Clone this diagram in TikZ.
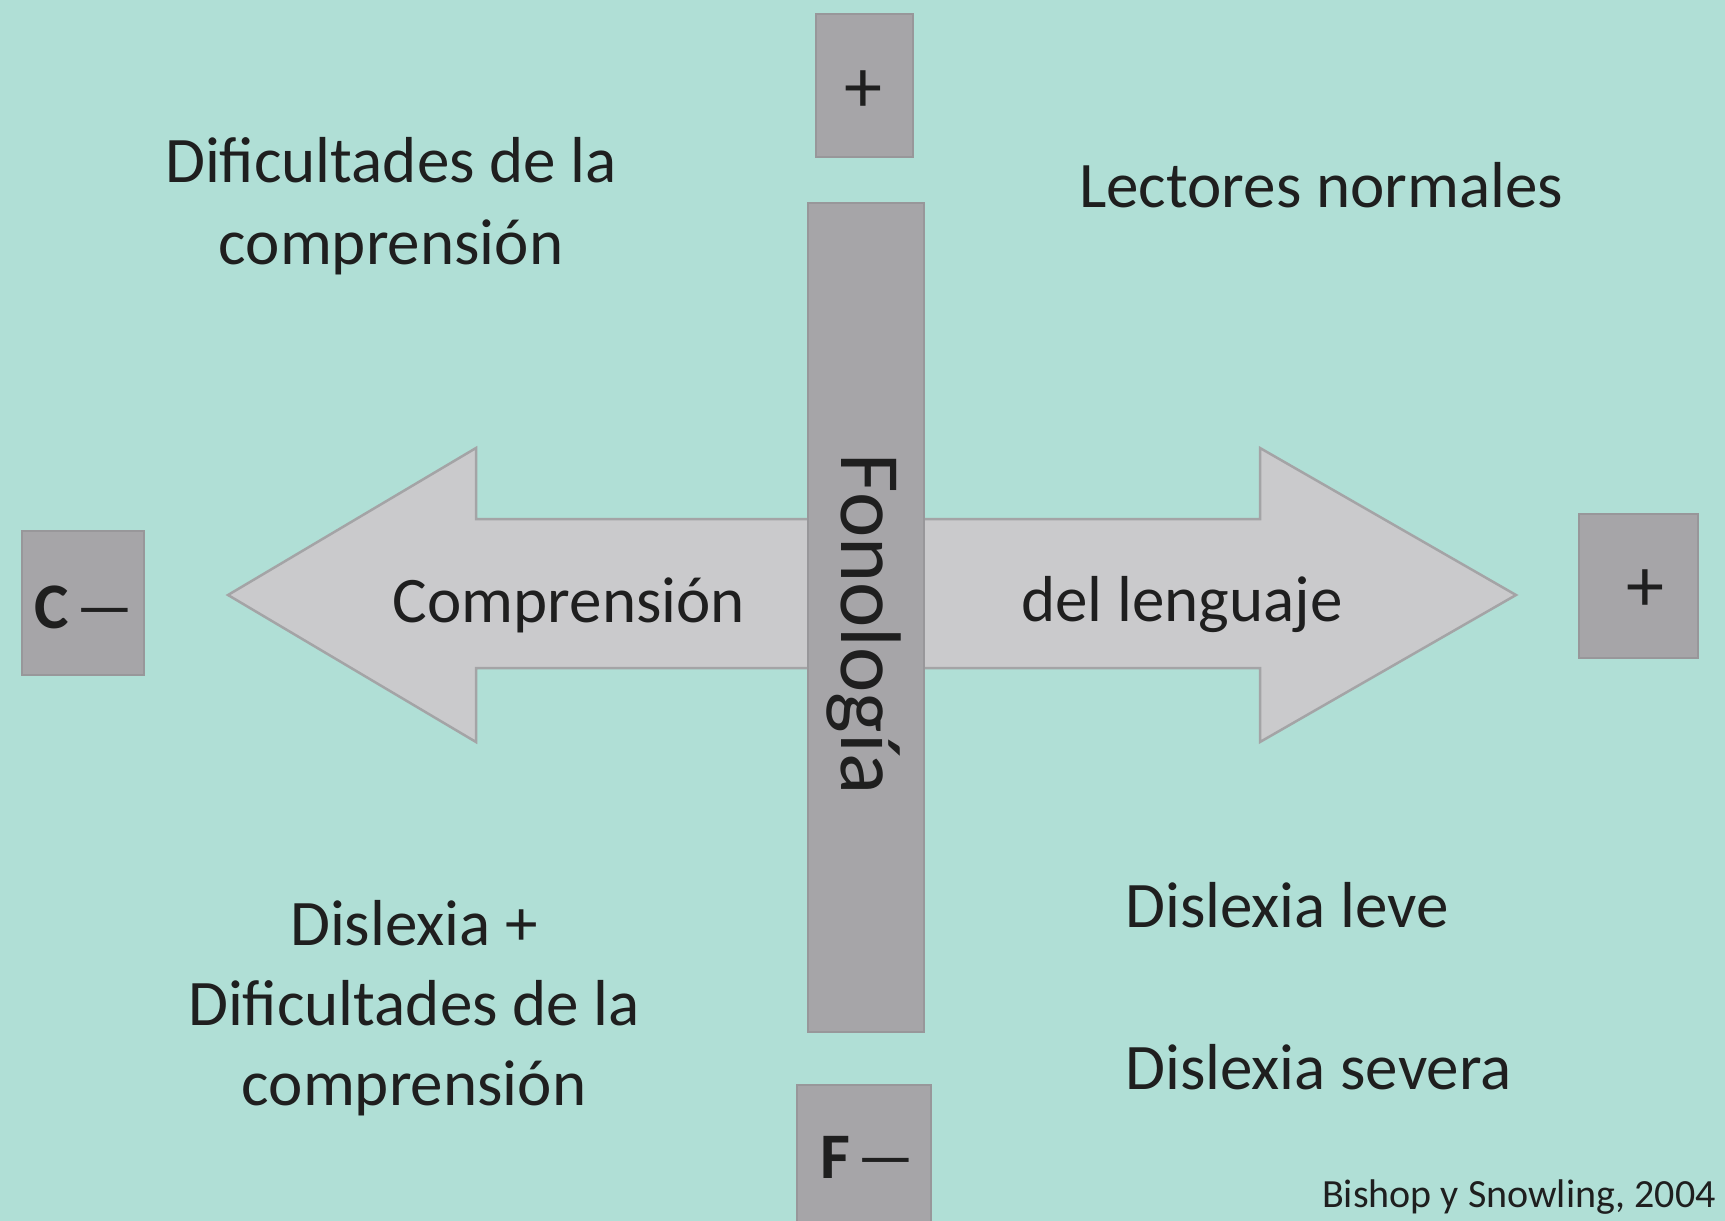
\documentclass[tikz,border=0pt]{standalone}
\usepackage{fontspec}
\setmainfont{Carlito}
\usetikzlibrary{positioning}
\definecolor{mint}{HTML}{B0DFD6}
\definecolor{boxgrey}{HTML}{A6A5A8}
\definecolor{boxedge}{HTML}{98979A}
\definecolor{arrowgrey}{HTML}{CACACC}
\definecolor{arrowedge}{HTML}{A4A4A6}
\definecolor{ink}{HTML}{1F1F1F}
\newcommand{\longdash}{\hspace{3pt}\scalebox{2.0}[1]{–}}
\tikzset{
  signbox/.style={fill=boxgrey,draw=boxedge,line width=2pt,inner sep=0pt,
    text=ink,font=\fontsize{65}{78}\selectfont},
  plussign/.style={text=ink,font=\fontsize{76}{80}\selectfont,inner sep=0pt},
  quadtext/.style={text=ink,font=\fontsize{65}{82}\selectfont,align=center,inner sep=0pt},
}

\begin{document}
\begin{tikzpicture}[x=1pt,y=-1pt]
  \fill[mint] (0,0) rectangle (1725,1221);
  \useasboundingbox (0,0) rectangle (1725,1221);

  % double arrow behind the bar
  \draw[fill=arrowgrey,draw=arrowedge,line width=2.5pt]
    (228,595) -- (476,448) -- (476,519) -- (1260,519) -- (1260,448)
    -- (1516,595) -- (1260,742) -- (1260,668) -- (476,668) -- (476,742) -- cycle;

  % vertical bar
  \node[signbox,minimum width=116,minimum height=829] (bar) at (866,617) {};
  \node[text=ink,font=\fontsize{86}{90}\selectfont,rotate=-90,inner sep=0pt]
    (fono) at (864,624) {Fonología};

  % sign boxes
  \node[signbox,minimum width=97,minimum height=143] (ftop) at (864,85) {};
  \node[plussign] (ftopsign) at (863,92) {+};
  \node[signbox,minimum width=134,minimum height=150] (fbot) at (864,1160) {};
  \node[text=ink,font=\fontsize{65}{78}\selectfont,inner sep=0pt]
    (fbotsign) at (869,1157) {\textbf{F}\longdash};
  \node[signbox,minimum width=122,minimum height=144] (cleft) at (83,603) {};
  \node[text=ink,font=\fontsize{65}{78}\selectfont,inner sep=0pt]
    (cleftsign) at (86,607) {\textbf{C}\longdash};
  \node[signbox,minimum width=119,minimum height=144] (cright) at (1638,586) {};
  \node[plussign] (crightsign) at (1645,591) {+};

  % arrow labels
  \node[quadtext] (comp) at (569,605) {Comprensión};
  \node[quadtext] (leng) at (1182,605) {del lenguaje};

  % quadrants
  \node[quadtext] (difcomp) at (391,206) {Dificultades de la\\comprensión};
  \node[quadtext] (normal) at (1321,185) {Lectores normales};
  \node[quadtext,font=\fontsize{65}{80}\selectfont] (dislexdif) at (414,1008)
    {Dislexia +\\Dificultades de la\\comprensión};
  \node[quadtext,anchor=west] (leve) at (1125,905) {Dislexia leve};
  \node[quadtext,anchor=west] (severa) at (1125,1067) {Dislexia severa};

  % source
  \node[text=ink,font=\fontsize{40}{44}\selectfont,anchor=east,inner sep=0pt]
    (fuente) at (1716,1197) {Bishop y Snowling, 2004};
\end{tikzpicture}
\end{document}
